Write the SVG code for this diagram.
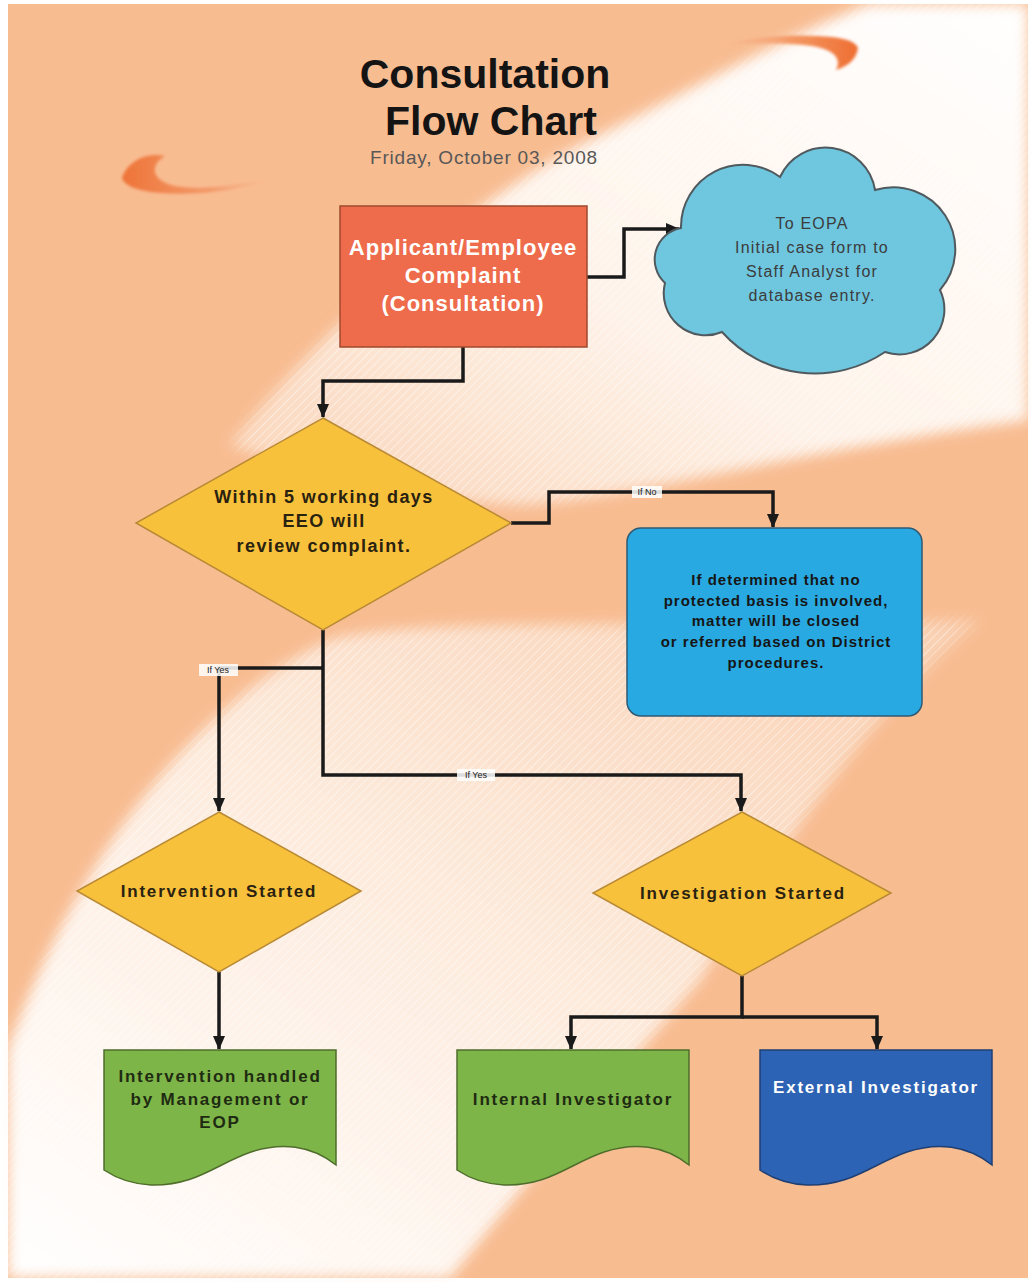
<svg xmlns="http://www.w3.org/2000/svg" width="1031" height="1282" viewBox="0 0 1031 1282">
<defs>
<style>
.title{font-family:"Liberation Sans",Arial,sans-serif;font-weight:bold;font-size:41px;fill:#141414;text-anchor:middle}
.date{font-family:"Liberation Sans",Arial,sans-serif;font-size:19px;letter-spacing:0.8px;fill:#585858;text-anchor:middle}
.wb{font-family:"Liberation Sans",Arial,sans-serif;font-weight:bold;font-size:22px;letter-spacing:1px;fill:#ffffff;text-anchor:middle}
.cl{font-family:"Liberation Sans",Arial,sans-serif;font-size:16px;letter-spacing:1.2px;fill:#3c3c3c;text-anchor:middle}
.db{font-family:"Liberation Sans",Arial,sans-serif;font-weight:bold;font-size:18px;letter-spacing:1.4px;fill:#2a2210;text-anchor:middle}
.dm{font-family:"Liberation Sans",Arial,sans-serif;font-weight:bold;font-size:17px;letter-spacing:1.8px;fill:#2a2210;text-anchor:middle}
.bx{font-family:"Liberation Sans",Arial,sans-serif;font-weight:bold;font-size:15px;letter-spacing:1px;fill:#161616;text-anchor:middle}
.gd{font-family:"Liberation Sans",Arial,sans-serif;font-weight:bold;font-size:17px;letter-spacing:1.8px;fill:#1e2b12;text-anchor:middle}
.wd{font-family:"Liberation Sans",Arial,sans-serif;font-weight:bold;font-size:17px;letter-spacing:1.8px;fill:#ffffff;text-anchor:middle}
.lbl{font-family:"Liberation Sans",Arial,sans-serif;font-size:9px;fill:#222;text-anchor:middle}
.lblbg{fill:#ffffff;opacity:0.85}
.conn{fill:none;stroke:#1a1a1a;stroke-width:3.5;stroke-linejoin:miter}
.dia{fill:#F8C13C;stroke:#B98A35;stroke-width:1.5}
.green{fill:#7EB548;stroke:#4f6e2c;stroke-width:1.5}
</style>
<marker id="arr" viewBox="0 0 14 12" refX="13" refY="6" markerWidth="14" markerHeight="12" markerUnits="userSpaceOnUse" orient="auto">
<path d="M0,0 L14,6 L0,12 Z" fill="#1a1a1a"/>
</marker>
<linearGradient id="sw1" x1="1" y1="0" x2="0" y2="1">
<stop offset="0" stop-color="#FFFFFF"/>
<stop offset="0.55" stop-color="#FEF3EA"/>
<stop offset="1" stop-color="#FAD3B6"/>
</linearGradient>
<linearGradient id="sw2" x1="1" y1="0" x2="0" y2="1">
<stop offset="0" stop-color="#F9CFB0"/>
<stop offset="0.5" stop-color="#FDEBDD"/>
<stop offset="1" stop-color="#FFFFFF"/>
</linearGradient>
<linearGradient id="br1" x1="0" y1="0" x2="1" y2="0">
<stop offset="0" stop-color="#EE7438"/>
<stop offset="0.6" stop-color="#F39A6A"/>
<stop offset="1" stop-color="#F7B58E" stop-opacity="0.3"/>
</linearGradient>
<linearGradient id="br2" x1="1" y1="0" x2="0" y2="0">
<stop offset="0" stop-color="#EE6E32"/>
<stop offset="0.5" stop-color="#F49A66"/>
<stop offset="1" stop-color="#F7B58E" stop-opacity="0.2"/>
</linearGradient>
<pattern id="stripes" width="6" height="6" patternUnits="userSpaceOnUse" patternTransform="rotate(45)">
<line x1="0" y1="0" x2="0" y2="6" stroke="#ffffff" stroke-width="2" opacity="0.45"/>
</pattern>
<filter id="soft" x="-10%" y="-10%" width="120%" height="120%">
<feGaussianBlur stdDeviation="7"/>
</filter>
<filter id="soft2" x="-20%" y="-50%" width="140%" height="200%">
<feGaussianBlur stdDeviation="1.5"/>
</filter>
<path id="swA" d="M870,4 H1028 V420 C800,450 620,500 520,505 C400,500 300,470 230,445 C330,320 470,200 600,135 C700,85 790,35 870,4 Z"/>
<path id="swB" d="M980,620 C700,630 420,615 330,640 C200,700 80,850 8,1050 V1278 H450 C550,1150 650,1040 700,980 C760,880 860,720 980,620 Z"/>
<mask id="swmask">
<g filter="url(#soft)" fill="#ffffff">
<use href="#swA"/>
<use href="#swB"/>
</g>
</mask>
</defs>

<g id="background">
<rect x="0" y="0" width="1031" height="1282" fill="#ffffff"/>
<rect x="8" y="4" width="1020" height="1274" fill="#F8BC91"/>
<g filter="url(#soft)">
<use href="#swA" fill="url(#sw1)"/>
<use href="#swB" fill="url(#sw2)"/>
</g>
<rect x="8" y="4" width="1020" height="1274" fill="url(#stripes)" mask="url(#swmask)"/>
<g filter="url(#soft2)">
<path d="M122,178 C128,160 148,152 165,156 C150,165 150,180 175,186 C210,192 240,182 270,180 C240,190 200,196 160,193 C140,191 125,187 122,178 Z" fill="url(#br1)"/>
<path d="M858,48 C856,60 848,66 836,70 C842,58 834,50 812,46 C780,42 750,44 720,45 C750,37 785,34 818,36 C840,37 855,40 858,48 Z" fill="url(#br2)"/>
</g>
</g>

<g id="title">
<text class="title" x="485" y="88">Consultation</text>
<text class="title" x="491" y="135">Flow Chart</text>
<text class="date" x="484" y="164">Friday, October 03, 2008</text>
</g>

<g id="connectors">
<path class="conn" d="M587,277 H624 V229 H679" marker-end="url(#arr)"/>
<path class="conn" d="M463,347 V381 H323 V417" marker-end="url(#arr)"/>
<path class="conn" d="M511,523 H549 V492 H773 V527" marker-end="url(#arr)"/>
<path class="conn" d="M323,630 V775 H741 V811" marker-end="url(#arr)"/>
<path class="conn" d="M323,668 H219 V811" marker-end="url(#arr)"/>
<path class="conn" d="M219,972 V1049" marker-end="url(#arr)"/>
<path class="conn" d="M742,976 V1017 H571 V1049" marker-end="url(#arr)"/>
<path class="conn" d="M742,1017 H877 V1049" marker-end="url(#arr)"/>
<rect class="lblbg" x="632" y="486" width="30" height="12"/>
<text class="lbl" x="647" y="495">If No</text>
<rect class="lblbg" x="199" y="664" width="39" height="12"/>
<text class="lbl" x="218" y="673">If Yes</text>
<rect class="lblbg" x="457" y="769" width="38" height="12"/>
<text class="lbl" x="476" y="778">If Yes</text>
</g>

<g id="complaint">
<rect x="340" y="206" width="247" height="141" fill="#EE6B4B" stroke="#9E4A2E" stroke-width="1.5"/>
<text class="wb" x="463" y="255">Applicant/Employee</text>
<text class="wb" x="463" y="283">Complaint</text>
<text class="wb" x="463" y="311">(Consultation)</text>
</g>

<g id="eopa-cloud">
<path d="M681,228 A62,62 0 0 1 780,177 A50,50 0 0 1 875,190 A62,62 0 0 1 940,290 A45,45 0 0 1 885,352 A125,125 0 0 1 722,332 A42,42 0 0 1 665,283 A32,32 0 0 1 681,228 Z" fill="#6EC6DF" stroke="#505a5e" stroke-width="2"/>
<text class="cl" x="812" y="229">To EOPA</text>
<text class="cl" x="812" y="253">Initial case form to</text>
<text class="cl" x="812" y="277">Staff Analyst for</text>
<text class="cl" x="812" y="301">database entry.</text>
</g>

<g id="review-decision">
<polygon class="dia" points="323,418 511,523 323,630 136,523"/>
<text class="db" x="324" y="503">Within 5 working days</text>
<text class="db" x="324" y="527">EEO will</text>
<text class="db" x="324" y="552">review complaint.</text>
</g>

<g id="closed-box">
<rect x="627" y="528" width="295" height="188" rx="14" fill="#29A9E1" stroke="#2f5a74" stroke-width="1.5"/>
<text class="bx" x="776" y="585">If determined that no</text>
<text class="bx" x="776" y="606">protected basis is involved,</text>
<text class="bx" x="776" y="626">matter will be closed</text>
<text class="bx" x="776" y="647">or referred based on District</text>
<text class="bx" x="776" y="668">procedures.</text>
</g>

<g id="intervention-started">
<polygon class="dia" points="219,812 361,891 219,972 77,891"/>
<text class="dm" x="219" y="897">Intervention Started</text>
</g>

<g id="investigation-started">
<polygon class="dia" points="742,812 891,893 742,976 593,893"/>
<text class="dm" x="743" y="899">Investigation Started</text>
</g>

<g id="intervention-handled">
<path class="green" transform="translate(104,1050)" d="M0,0 H232 V115 C207,95 177,92 147,102 C112,114 92,136 47,135 C27,134 12,128 0,120 Z"/>
<text class="gd" x="220" y="1082">Intervention handled</text>
<text class="gd" x="220" y="1105">by Management or</text>
<text class="gd" x="220" y="1128">EOP</text>
</g>

<g id="internal-investigator">
<path class="green" transform="translate(457,1050)" d="M0,0 H232 V115 C207,95 177,92 147,102 C112,114 92,136 47,135 C27,134 12,128 0,120 Z"/>
<text class="gd" x="573" y="1105">Internal Investigator</text>
</g>

<g id="external-investigator">
<path transform="translate(760,1050)" d="M0,0 H232 V115 C207,95 177,92 147,102 C112,114 92,136 47,135 C27,134 12,128 0,120 Z" fill="#2D63B4" stroke="#1f3f72" stroke-width="1.5"/>
<text class="wd" x="876" y="1093">External Investigator</text>
</g>
</svg>
